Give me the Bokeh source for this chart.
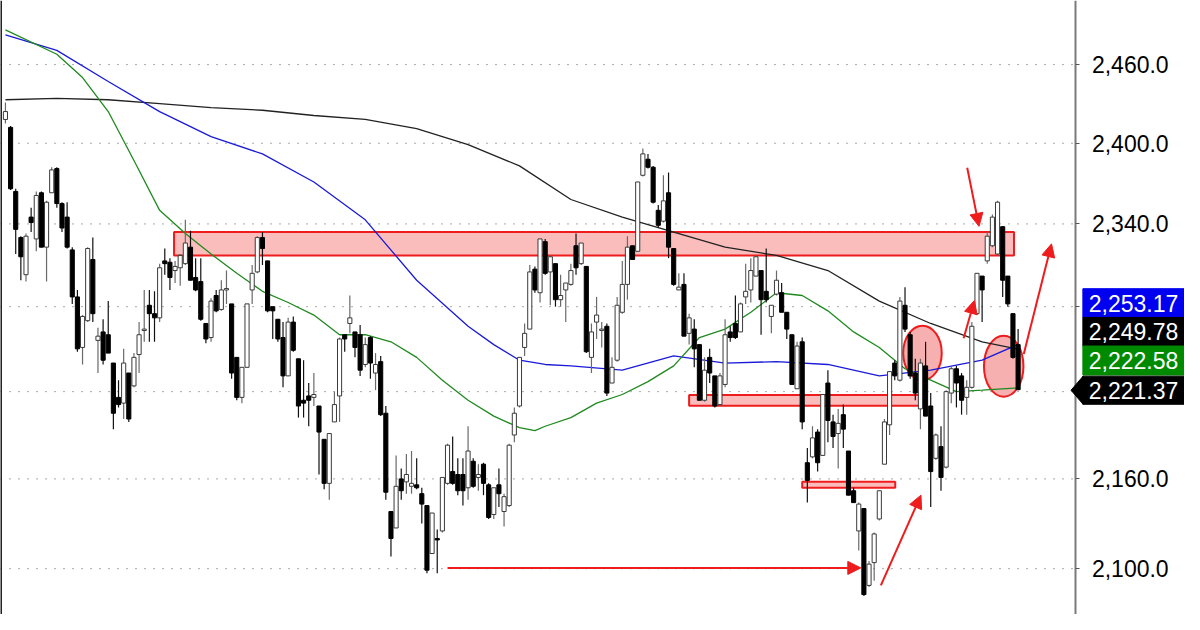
from bokeh.plotting import figure
from bokeh.models import (ColumnDataSource, FixedTicker, NumeralTickFormatter, Range1d,
                          Arrow, NormalHead, Span)
from bokeh.core.properties import value
from bokeh.embed import file_html
from bokeh.resources import INLINE

# ---------------- data ----------------
opens = [2418,2412,2364,2330,2303,2345,2329,2363,2323,2363,
         2381,2355,2345,2321,2287,2251,2270,2314,2256,2262,
         2260,2240,2216,2212,2233,2224,2246,2263,2281,2275,
         2272,2313,2312,2306,2308,2311,2323,2301,2298,2268,
         2258,2288,2278,2292,2282,2244,2216,2237,2292,2305,
         2330,2313,2280,2271,2258,2231,2269,2243,2214,2217,
         2216,2210,2187,2157,2199,2217,2260,2268,2262,2260,
         2239,2258,2233,2241,2205,2138,2127,2160,2158,2155,
         2156,2150,2142,2110,2120,2125,2157,2165,2163,2163,
         2154,2172,2161,2170,2156,2136,2156,2138,2142,2190,
         2210,2251,2264,2307,2290,2327,2305,2311,2285,2292,
         2296,2324,2311,2309,2244,2269,2263,2266,2226,2242,
         2276,2296,2324,2320,2376,2388,2382,2350,2342,2363,
         2322,2292,2296,2261,2264,2253,2214,2244,2231,2211,
         2225,2262,2268,2262,2287,2292,2302,2306,2291,2273,
         2289,2290,2276,2260,2222,2255,2171,2175,2192,2176,
         2226,2199,2191,2204,2179,2152,2125,2140,2089,2104,
         2133,2170,2197,2240,2228,2281,2260,2233,2208,2238,
         2210,2174,2182,2168,2219,2236,2231,2216,2223,2275,
         2302,2313,2324,2318,2338,2302,2275,2253]
highs = [2431,2413,2366,2331,2333,2352,2364,2364,2357,2382,
         2382,2356,2356,2323,2292,2274,2323,2330,2265,2271,
         2284,2240,2228,2250,2233,2247,2269,2292,2292,2291,
         2311,2322,2315,2313,2318,2343,2335,2315,2315,2268,
         2286,2292,2299,2306,2282,2244,2237,2282,2310,2331,
         2334,2313,2280,2271,2269,2272,2273,2243,2242,2226,
         2233,2210,2187,2191,2220,2258,2260,2288,2262,2267,
         2258,2259,2247,2245,2210,2138,2176,2167,2177,2179,
         2174,2154,2142,2137,2126,2161,2184,2189,2174,2174,
         2196,2174,2170,2171,2157,2154,2167,2150,2184,2209,
         2244,2268,2310,2309,2329,2329,2317,2311,2303,2297,
         2311,2333,2326,2309,2268,2287,2269,2268,2244,2287,
         2313,2331,2324,2371,2396,2392,2383,2354,2376,2378,
         2322,2304,2304,2275,2271,2253,2244,2250,2231,2233,
         2271,2266,2288,2283,2311,2315,2317,2306,2322,2281,
         2306,2297,2276,2260,2255,2258,2181,2196,2194,2218,
         2235,2204,2208,2211,2179,2154,2144,2140,2105,2124,
         2152,2201,2234,2242,2287,2294,2262,2243,2243,2255,
         2219,2191,2196,2221,2238,2238,2233,2228,2269,2304,
         2302,2334,2347,2357,2338,2302,2275,2264]
lows = [2415,2365,2318,2299,2298,2334,2320,2323,2298,2363,
        2352,2334,2322,2282,2248,2239,2269,2269,2233,2239,
        2247,2194,2209,2201,2199,2223,2233,2255,2255,2255,
        2269,2303,2292,2297,2295,2310,2299,2291,2270,2254,
        2255,2276,2277,2282,2229,2214,2212,2237,2282,2304,
        2310,2276,2257,2255,2223,2231,2248,2202,2202,2196,
        2210,2163,2153,2146,2199,2199,2248,2261,2244,2231,
        2237,2229,2221,2203,2146,2108,2127,2146,2150,2150,
        2153,2130,2097,2110,2097,2124,2156,2156,2149,2142,
        2146,2154,2152,2149,2133,2133,2141,2128,2141,2185,
        2209,2245,2264,2290,2283,2303,2281,2280,2280,2269,
        2295,2303,2310,2247,2233,2257,2251,2217,2226,2241,
        2275,2285,2314,2320,2375,2381,2355,2337,2341,2315,
        2295,2292,2259,2253,2237,2214,2213,2226,2209,2210,
        2223,2255,2257,2262,2282,2283,2302,2260,2283,2261,
        2288,2276,2257,2225,2222,2194,2144,2174,2165,2176,
        2185,2181,2167,2181,2149,2144,2112,2082,2088,2092,
        2132,2170,2190,2228,2227,2262,2229,2214,2194,2203,
        2141,2173,2152,2167,2212,2209,2204,2204,2222,2274,
        2269,2311,2323,2317,2287,2280,2243,2221]
closes = [2424,2366,2336,2316,2331,2341,2361,2323,2356,2380,
          2355,2337,2323,2287,2250,2273,2322,2275,2259,2242,
          2247,2205,2211,2240,2201,2244,2260,2264,2275,2272,
          2308,2311,2301,2309,2317,2326,2299,2292,2271,2257,
          2284,2277,2292,2293,2233,2216,2237,2282,2304,2330,
          2322,2277,2277,2257,2231,2269,2249,2210,2212,2214,
          2218,2192,2157,2191,2211,2257,2257,2272,2251,2235,
          2253,2240,2239,2204,2151,2120,2155,2152,2163,2157,
          2154,2143,2099,2137,2119,2161,2183,2157,2152,2152,
          2179,2155,2163,2157,2134,2154,2150,2148,2183,2205,
          2244,2261,2305,2292,2329,2304,2316,2285,2288,2297,
          2306,2308,2326,2248,2262,2274,2264,2219,2237,2281,
          2296,2323,2314,2371,2392,2382,2356,2339,2357,2323,
          2296,2294,2259,2272,2250,2214,2235,2233,2210,2231,
          2260,2258,2258,2282,2291,2306,2316,2285,2285,2281,
          2299,2276,2264,2225,2252,2199,2159,2188,2171,2218,
          2200,2189,2198,2194,2149,2144,2143,2083,2103,2123,
          2152,2199,2234,2231,2284,2264,2231,2219,2240,2203,
          2165,2190,2161,2220,2236,2226,2214,2223,2266,2304,
          2292,2331,2345,2356,2299,2282,2244,2221.37]

# moving averages, read at selected bars
ma_long_idx = [0,10,20,30,40,50,60,70,80,90,100,110,120,130,140,150,160,170,180,190,197]
ma_long = [2433,2434,2433,2430,2427,2425,2421,2418,2411,2399,2383,2358,2345,2334,2323,
           2317,2306,2284,2268,2255,2249.78]
ma_mid_idx = [0,10,20,30,40,50,60,70,80,90,95,100,105,110,120,130,140,150,160,170,180,190,197]
ma_mid = [2483,2471,2447,2424,2405,2392,2371,2343,2299,2266,2253,2242,2239,2238,2235,2245,
          2240,2241,2239,2231,2235,2242,2253.17]
ma_short_idx = [0,10,15,20,25,30,35,40,45,50,55,60,65,70,75,80,85,90,95,100,103,105,110,
                115,120,125,130,135,140,145,150,155,160,165,170,175,180,185,190,197]
ma_short = [2487,2468,2450,2424,2387,2350,2333,2318,2304,2291,2283,2274,2260,2260,2255,2244,
            2228,2214,2203,2195,2193,2196,2202,2212,2218,2227,2238,2258,2264,2276,2290,2288,
            2277,2262,2251,2236,2228,2220,2221,2222.58]

tick_values = [2100, 2160, 2220, 2280, 2340, 2400, 2460]

# layout in bar-index units
X_START, X_END = -0.96, 229.37
AXIS_X = 208.25

# annotation zones (bar index, price)
zone_left = [32.8, 133.0, 155.0]
zone_right = [196.2, 178.5, 173.1]
zone_top = [2334, 2217.6, 2158.0]
zone_bottom = [2317, 2210.2, 2154.1]

ell_x = [178.4, 194.2]
ell_y = [2247.1, 2237.8]
ell_w = [38.5, 39.5]
ell_h = [54.6, 61.0]

arrows = [  # x0, y0, x1, y1
    (86.0, 2100.5, 166.4, 2100.5),
    (170.3, 2089.0, 178.1, 2149.0),
    (186.4, 2257.5, 188.5, 2284.4),
    (187.1, 2381.6, 189.4, 2338.2),
    (198.1, 2246.4, 203.5, 2325.4),
]

# price tags on the axis
tag_texts = ["2,253.17", "2,249.78", "2,222.58", "2,221.37"]
tag_colors = ["#0000f0", "#000000", "#008a00", "#000000"]
tag_top = [2292.9, 2272.3, 2252.0, 2230.8]
tag_bottom = [2272.3, 2252.0, 2231.6, 2211.2]
tag_mid = [2282.3, 2262.3, 2241.6, 2221.0]
tag_left = 209.6
tag_text_x = 210.75
pointer_tip = 207.3

# ---------------- figure ----------------
n = len(closes)
idx = list(range(n))
up = [c >= o for o, c in zip(opens, closes)]
src = ColumnDataSource(dict(
    x=idx, high=highs, low=lows,
    top=[max(o, c) for o, c in zip(opens, closes)],
    bottom=[min(o, c) for o, c in zip(opens, closes)],
    fill=["#ffffff" if u else "#000000" for u in up],
    line=["#3a3a3a" if u else "#000000" for u in up],
    wick=["#6a6a6a" if u else "#111111" for u in up],
))

p = figure(width=1184, height=614, y_axis_type="log", y_axis_location="right",
           x_range=Range1d(X_START, X_END), y_range=Range1d(2070, 2510),
           output_backend="svg", toolbar_location=None,
           min_border_left=0, min_border_top=0, min_border_bottom=0, min_border_right=0)
p.xaxis.visible = False
p.xgrid.visible = False
p.ygrid.visible = False
p.outline_line_color = None
p.background_fill_color = "white"
p.border_fill_color = "white"

yax = p.yaxis[0]
yax.fixed_location = AXIS_X
yax.ticker = FixedTicker(ticks=tick_values)
yax.formatter = NumeralTickFormatter(format="0,0.0")
yax.major_label_text_font = "Liberation Sans"
yax.major_label_text_font_size = "23px"
yax.major_label_text_color = "#000000"
yax.major_label_standoff = 12
yax.major_tick_in = 0
yax.major_tick_out = 4
yax.minor_tick_in = 0
yax.minor_tick_out = 0
yax.axis_line_color = "#7a7a7a"
yax.axis_line_width = 2
yax.major_tick_line_color = "#555555"

# dotted horizontal grid, ending at the axis
p.segment(x0=[X_START] * len(tick_values), x1=[AXIS_X] * len(tick_values),
          y0=tick_values, y1=tick_values, line_color="#555555", line_width=1,
          line_dash="1 8")

# zones
p.quad(left=zone_left, right=zone_right, top=zone_top, bottom=zone_bottom,
       fill_color="#fbbcbc", fill_alpha=1.0, line_color="#ee1c1c", line_width=2)
# ellipses
p.ellipse(x=ell_x, y=ell_y, width=ell_w, height=ell_h,
          width_units="screen", height_units="screen",
          fill_color="#f6b0b0", line_color="#ee1c1c", line_width=2)

# moving averages
p.line(ma_long_idx, ma_long, line_color="#222222", line_width=1.3)
p.line(ma_mid_idx, ma_mid, line_color="#1a1ad8", line_width=1.3)
p.line(ma_short_idx, ma_short, line_color="#1f8a1f", line_width=1.3)

# candles
p.segment(x0="x", y0="high", x1="x", y1="low", line_color="wick", line_width=1.2, source=src)
p.vbar(x="x", width=0.8, top="top", bottom="bottom", fill_color="fill",
       line_color="line", line_width=1, source=src)

# arrows
for (x0, y0, x1, y1) in arrows:
    p.add_layout(Arrow(x_start=x0, y_start=y0, x_end=x1, y_end=y1,
                       line_color="#ee1c1c", line_width=2,
                       end=NormalHead(size=13, fill_color="#ee1c1c", line_color="#ee1c1c")))

# left frame line
p.add_layout(Span(location=X_START, dimension="height", line_color="#222222", line_width=3))

# price tags (drawn above the axis)
p.quad(left=[tag_left] * 4, right=[X_END] * 4, top=tag_top, bottom=tag_bottom,
       fill_color=tag_colors, line_color=tag_colors, level="overlay")
p.patch(x=[pointer_tip, tag_left + 0.05, tag_left + 0.05],
        y=[tag_mid[3], tag_top[3], tag_bottom[3]],
        fill_color="#000000", line_color="#000000", level="overlay")
p.text(x=[tag_text_x] * 4, y=tag_mid, text=tag_texts, text_color="white",
       text_font=value("Liberation Sans"), text_font_size=value("23px"),
       text_baseline="middle", text_align="left", level="overlay")

open("out.html", "w").write(file_html(p, INLINE))
